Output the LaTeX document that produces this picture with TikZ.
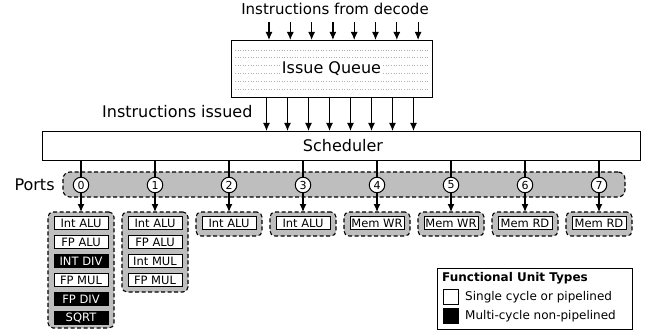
\documentclass[tikz,border=0pt]{standalone}
\usepackage{fontspec}
\setmainfont{DejaVu Sans}
\usetikzlibrary{arrows.meta}
\definecolor{fugray}{RGB}{190,190,190}
\definecolor{dotgray}{RGB}{175,175,175}
\begin{document}
\begin{tikzpicture}[x=1pt,y=-1pt,
  big/.style={font=\fontsize{16}{19}\selectfont},
  arr/.style={line width=1.2pt,-{Latex[length=8pt,width=7pt]}},
  plainbox/.style={draw,line width=0.9pt,fill=white,inner sep=0pt,outer sep=0pt},
  port/.style={circle,draw,line width=1pt,fill=white,minimum size=15.5pt,inner sep=0pt,font=\fontsize{11}{12}\selectfont},
  fugroup/.style={draw,line width=1.1pt,dash pattern=on 4pt off 2.5pt,rounded corners=5pt,fill=fugray,inner sep=0pt,outer sep=0pt,minimum width=66pt},
  fubox/.style={draw,line width=0.9pt,fill=white,minimum width=54pt,minimum height=13pt,inner sep=0pt,font=\fontsize{11.5}{12}\selectfont},
  fublack/.style={fubox,fill=black,text=white},
  legsq/.style={draw,line width=0.9pt,minimum size=15pt,inner sep=0pt}
]
\useasboundingbox (0,0) rectangle (647,331);

% Issue queue
\node[font=\fontsize{15}{18}\selectfont] (dec) at (335,9) {Instructions from decode};
\node[plainbox,minimum width=201pt,minimum height=57pt] (iq) at (331.5,68.5) {};
\foreach \yy in {50,57.8,65.6,73.4,81.2,89} {
  \draw[dotgray,dotted,line width=0.6pt] ([xshift=4pt]iq.west |- 0,\yy) -- ([xshift=-4pt]iq.east |- 0,\yy);
}
\node[big,fill=white,inner sep=1pt] (iqt) at (iq.center) {Issue Queue};
\foreach \i in {0,...,7} {
  \coordinate (t\i) at ({269+21.3*\i},22);
  \draw[arr] (t\i) -- (t\i |- iq.north);
}

% Scheduler
\node[plainbox,minimum width=598pt,minimum height=29pt] (sched) at (341,145.5) {};
\node[big] (schedt) at (343,146) {Scheduler};
\node[big,anchor=east] (issued) at (256,112) {Instructions issued};
\foreach \i in {0,...,7} {
  \coordinate (b\i) at ({266.5+21*\i},110);
  \draw[arr] (iq.south -| b\i) -- (sched.north -| b\i);
}

% Ports
\node[big,anchor=west] (portlbl) at (11,185) {Ports};
\node[fugroup,minimum width=562pt,minimum height=25pt,rounded corners=7pt] (band) at (344,184.5) {};
\foreach \i in {0,...,7} {
  \node[port] (p\i) at ({81+74*\i},185) {\i};
  \draw[line width=1.1pt] (sched.south -| p\i) -- (p\i);
}

% Functional unit groups
\node[fugroup,minimum height=116pt] (g0) at (81,270) {};
\node[fubox] (g0a) at (81,223.3) {Int ALU};
\node[fubox] (g0b) at (81,242) {FP ALU};
\node[fublack] (g0c) at (81,261) {INT DIV};
\node[fubox] (g0d) at (81,280) {FP MUL};
\node[fublack] (g0e) at (81,299) {FP DIV};
\node[fublack] (g0f) at (81,317.5) {SQRT};

\node[fugroup,minimum height=80pt] (g1) at (155,252) {};
\node[fubox] (g1a) at (155,223.3) {Int ALU};
\node[fubox] (g1b) at (155,242) {FP ALU};
\node[fubox] (g1c) at (155,261) {Int MUL};
\node[fubox] (g1d) at (155,280) {FP MUL};

\foreach \i/\t in {2/Int ALU,3/Int ALU,4/Mem WR,5/Mem WR,6/Mem RD,7/Mem RD} {
  \node[fugroup,minimum height=24pt] (g\i) at ({81+74*\i},224) {};
  \node[fubox] (g\i a) at ({81+74*\i},223.3) {\t};
}
\foreach \i in {0,...,7} {
  \draw[arr] (p\i) -- (g\i.north);
}

% Legend
\node[draw,line width=0.9pt,minimum width=195pt,minimum height=61pt,inner sep=0pt] (leg) at (534.5,298.5) {};
\node[anchor=west,font=\bfseries\fontsize{12}{14}\selectfont,inner sep=0pt] (legt) at (442,278.5) {Functional Unit Types};
\node[legsq,fill=white] (sqw) at (450.5,296.5) {};
\node[legsq,fill=black] (sqb) at (450.5,316) {};
\node[anchor=west,font=\fontsize{12}{14}\selectfont,inner sep=0pt] (legw) at (465,297) {Single cycle or pipelined};
\node[anchor=west,font=\fontsize{12}{14}\selectfont,inner sep=0pt] (legb) at (465,316.5) {Multi-cycle non-pipelined};
\end{tikzpicture}
\end{document}
